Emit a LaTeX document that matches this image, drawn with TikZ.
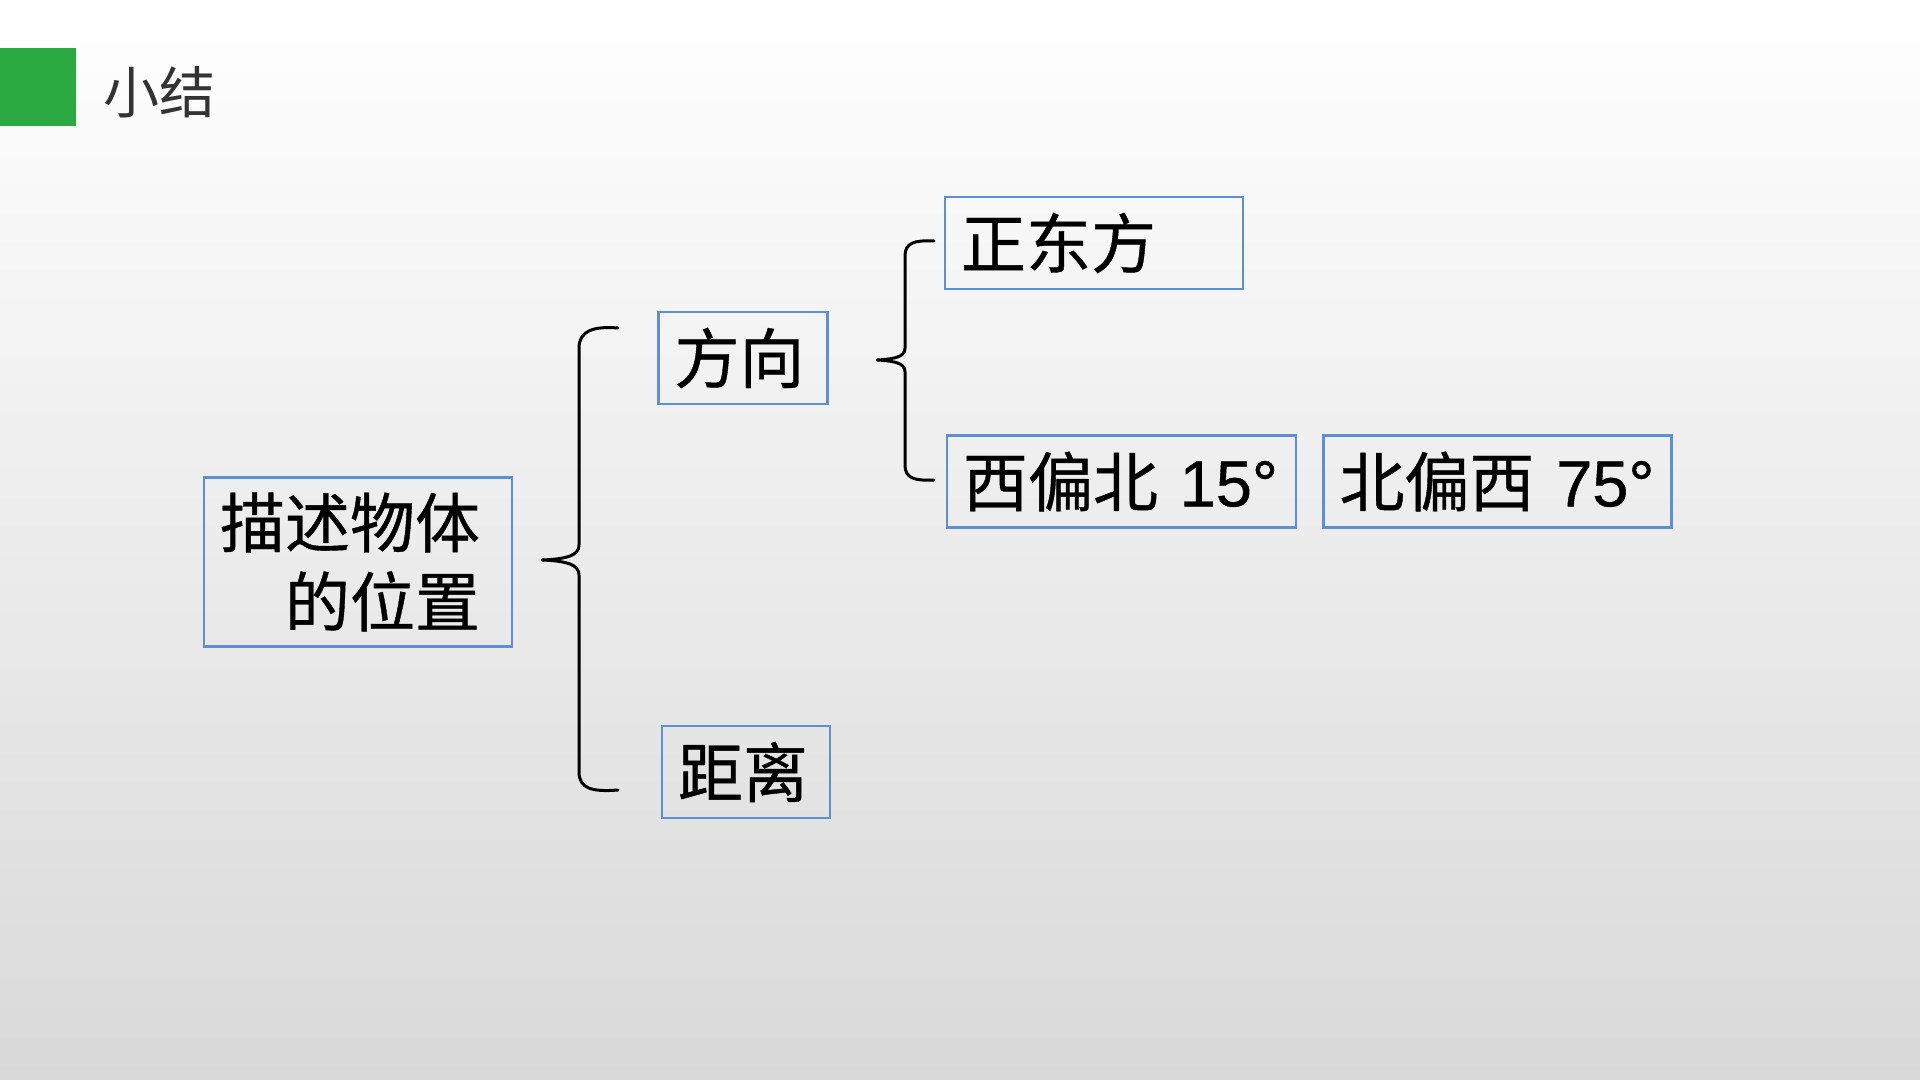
\documentclass[tikz,border=0pt]{standalone}
\usepackage{fontspec}
\newfontfamily\cjk{Noto Sans CJK SC}
\newfontfamily\cjkbox[FakeBold=0.6]{Noto Sans CJK SC}
\newfontfamily\lat[FakeBold=0.6]{Liberation Sans}
\usetikzlibrary{
  positioning % 节点相对定位
}
\definecolor{bgbottom}{RGB}{217,217,217}
\definecolor{titlegreen}{RGB}{43,170,66}
\definecolor{boxblue}{RGB}{91,143,214}
\definecolor{titlegray}{RGB}{51,51,51}
\tikzset{
  title text/.style={
    font={\cjk\fontsize{28}{33}\selectfont},
    text=titlegray,
    inner sep=0pt
  },
  kbox/.style={
    draw=boxblue,
    line width=1.25pt,
    font={\cjkbox\fontsize{32.5}{39.5}\selectfont},
    align=left,
    inner xsep=8pt,
    inner ysep=4pt,
    minimum height=46pt
  },
  brace line/.style={
    line width=1.5pt,
    line cap=round,
    line join=round
  }
}

\begin{document}
\begin{tikzpicture}[x=0.5pt, y=-0.5pt] % 以像素为单位，y 轴向下
  % 背景渐变
  \shade[top color=white, bottom color=bgbottom] (0,0) rectangle (1920,1080);
  \useasboundingbox (0,0) rectangle (1920,1080);

  % 标题
  \fill[titlegreen] (0,48) rectangle (76,126);
  \node[title text] (title) at (159,92) {小结};

  % 左侧总框
  \node[kbox, text width=138pt, minimum height=84.5pt] (desc) at (358,562) {描述物体\\\hspace*{1em}的位置};

  % 大括号
  \draw[brace line] (618,328) .. controls (593,326) and (579,331) .. (579,348)
    -- (579,545) .. controls (579,555) and (568,559) .. (542,560)
    .. controls (568,561) and (579,565) .. (579,575)
    -- (579,772) .. controls (579,789) and (593,792) .. (618,790);

  % 第二层：方向、距离
  \node[kbox, text width=68.5pt] (dir) at (743,358) {方向};
  \node[kbox, text width=68pt] (dist) at (746,772) {距离};

  % 小括号
  \draw[brace line] (934,241) .. controls (914,240) and (905,243) .. (905,256)
    -- (905,348) .. controls (905,356) and (897,359) .. (877,360)
    .. controls (897,361) and (905,364) .. (905,372)
    -- (905,465) .. controls (905,478) and (914,481) .. (934,480);

  % 第三层：具体方向
  \node[kbox, text width=133pt] (east) at (1094,243) {正东方};
  \node[kbox, text width=158.5pt] (wn) at (1121.5,481.5) {西偏北\lat{} 15°};
  \node[kbox, text width=158pt, right=12.5pt of wn] (nw) {北偏西\lat{} 75°};
\end{tikzpicture}
\end{document}
